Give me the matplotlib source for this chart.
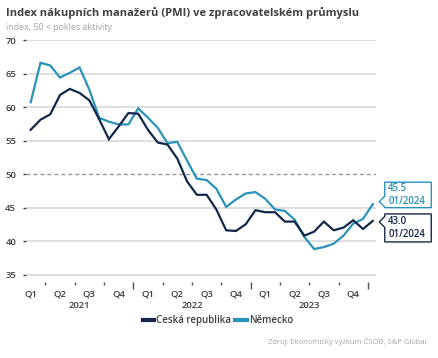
import matplotlib.pyplot as plt
from matplotlib.patches import Polygon
from matplotlib.transforms import Affine2D, blended_transform_factory

plt.rcParams['font.family'] = ['Open Sans', 'DejaVu Sans']

# monthly PMI, Feb 2021 .. Jan 2024 (month index 0 = Jan 2021)
months = list(range(1, 37))
cz = [56.6, 58.1, 58.9, 61.8, 62.7, 62.1, 61.0, 58.2, 55.2, 57.1, 59.1,
      59.0, 56.6, 54.7, 54.4, 52.3, 48.9, 46.9, 46.9, 44.7, 41.6, 41.5, 42.5,
      44.6, 44.3, 44.3, 42.9, 42.9, 40.8, 41.4, 42.9, 41.6, 42.0, 43.1, 41.8,
      43.0]
de = [60.7, 66.6, 66.2, 64.4, 65.1, 65.9, 62.6, 58.4, 57.8, 57.4, 57.4,
      59.8, 58.4, 56.9, 54.6, 54.8, 52.0, 49.3, 49.1, 47.8, 45.1, 46.2, 47.1,
      47.3, 46.3, 44.7, 44.5, 43.2, 40.6, 38.8, 39.1, 39.6, 40.8, 42.6, 43.3,
      45.5]
quarters = ['Q1', 'Q2', 'Q3', 'Q4'] * 3
years = ['2021', '2022', '2023']
last_label = '01/2024'

c_cz = '#14284b'
c_de = '#2b92b9'
c_text = '#404040'

fig = plt.figure(figsize=(4.38, 3.58), dpi=100)
ax = fig.add_axes([26 / 438, 1 - 281.9 / 358, (375.7 - 26) / 438, (281.9 - 40) / 358])

ax.plot(months, de, color=c_de, lw=1.6, zorder=3, solid_joinstyle='miter')
ax.plot(months, cz, color=c_cz, lw=1.6, zorder=3, solid_joinstyle='miter')

ax.set_ylim(33.9, 70)
ax.set_xlim(0.52, 36.3)
yt = [35, 40, 45, 55, 60, 65, 70]
ax.set_yticks([35, 40, 45, 50, 55, 60, 65, 70])
for v in yt:
    ax.axhline(v, color='#dcdcdc', lw=1.3, zorder=1)
ax.axhline(50, color='#9a9a9a', lw=1.0, ls=(0, (3, 2)), zorder=1)
ax.tick_params(axis='y', length=2.5, width=1, color=c_text, pad=4.5,
               labelsize=6.8, labelcolor=c_text)
for lab in ax.get_yticklabels():
    lab.set_fontweight('semibold')

# quarter boundaries as ticks, labels in the middle month of each quarter
bounds = [-0.5 + 3 * k for k in range(1, 13)]
ax.set_xticks(bounds)
ax.set_xticklabels([])
ax.tick_params(axis='x', which='major', length=2.5, width=1, color='#555555')
ax.set_xticks([1 + 3 * k for k in range(12)], minor=True)
ax.set_xticklabels(quarters, minor=True, fontsize=6.8, color=c_text, fontweight='semibold')
ax.tick_params(axis='x', which='minor', length=0, pad=5.5)
for t in ax.xaxis.get_major_ticks():
    if t.get_loc() in (11.5, 23.5, 35.5):
        t.tick1line.set_markersize(5)

trans = blended_transform_factory(ax.transData, fig.transFigure)
for i, y in enumerate(years):
    start = 1 if i == 0 else 12 * i
    center = (start + 12 * i + 11) / 2
    ax.text(center, 1 - 305 / 358, y, transform=trans, ha='center', va='center',
            fontsize=6.8, color=c_text, fontweight='semibold')

for s in ax.spines.values():
    s.set_visible(False)

# callouts for the last values
pix = Affine2D().scale(1, -1).translate(0, 358)
for vals, col, dy in [(de, c_de, -2.5), (cz, c_cz, 1)]:
    px, py = ax.transData.transform((months[-1], vals[-1]))
    py = 358 - py
    tx, ty = px + 6.5, py + dy
    top, bot = ty - 19.5, ty + 6
    if col == c_cz:
        top, bot = ty - 8, ty + 20
    x0, x1 = tx + 5.5, tx + 52
    verts = [(x0, top), (x1, top), (x1, bot), (x0, bot), (x0, ty + 5.5),
             (tx, ty), (x0, ty - 5.5)]
    fig.patches.append(Polygon(verts, closed=True, transform=pix, facecolor='white',
                               edgecolor=col, lw=1.0, zorder=5))
    fig.text((x0 + 3.5) / 438, 1 - ((top + bot) / 2) / 358,
             f'{vals[-1]:.1f}\n{last_label}', ha='left', va='center', fontsize=7,
             color=col, fontweight='semibold', linespacing=1.15, zorder=6)

fig.text(6 / 438, 1 - 13 / 358, 'Index nákupních manažerů (PMI) ve zpracovatelském průmyslu',
         fontsize=8, fontweight='bold', color=c_text, va='center', ha='left')
fig.text(6 / 438, 1 - 27 / 358, 'index, 50 < pokles aktivity', fontsize=6.4,
         color='#a6a6a6', va='center', ha='left')

h_cz, = ax.plot([], [], color=c_cz, lw=3)
h_de, = ax.plot([], [], color=c_de, lw=3)
leg = fig.legend([h_cz, h_de], ['Ceská republika', 'Německo'], loc='center',
                 bbox_to_anchor=(218 / 438, 1 - 320.7 / 358), ncol=2, frameon=False,
                 handlelength=1.2, handletextpad=0.2, columnspacing=0.4,
                 prop={'size': 7, 'weight': 'semibold'})
for t in leg.get_texts():
    t.set_color(c_text)

fig.text(426.7 / 438, 1 - 342 / 358, 'Zdroj: Ekonomický výzkum ČSOB, S&P Global',
         fontsize=5.5, color='#a6a6a6', ha='right', va='center')

fig.savefig('out.png', dpi=100)
